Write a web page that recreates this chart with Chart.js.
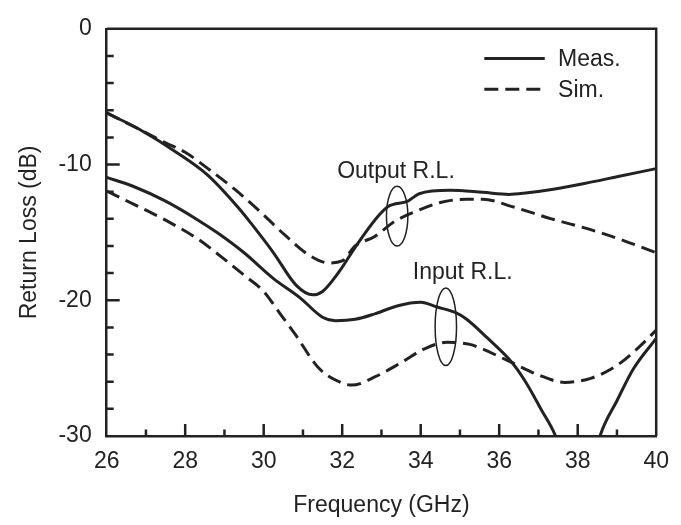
<!DOCTYPE html>
<html>
<head>
<meta charset="utf-8">
<style>
  html, body { margin: 0; padding: 0; background: #fff; }
  #wrap { width: 681px; height: 525px; }
</style>
<script src="https://cdn.jsdelivr.net/npm/chart.js@4/dist/chart.umd.min.js"></script>
</head>
<body>
<div id="wrap"><canvas id="chart" width="681" height="525"></canvas></div>
<script>
// frequency (GHz) / return loss (dB)
const outMeasX = [26, 26.83, 27.83, 28.58, 29.42, 29.67, 30.25, 30.83, 31.25, 31.5, 31.92, 32.33, 32.83, 33.17, 33.67, 33.96, 34.75, 35.58, 36.25, 36.67, 37.42, 38.17, 39.0, 40];
const outMeasY = [-6.2, -7.4, -9.2, -10.8, -13.4, -14.3, -16.5, -18.9, -19.6, -19.35, -17.9, -16.1, -14.1, -13.1, -12.7, -12.15, -11.9, -12.05, -12.2, -12.1, -11.8, -11.4, -10.9, -10.3];

const outSimX = [26, 26.83, 27.5, 28.0, 28.58, 29.25, 29.92, 30.58, 31.17, 31.67, 32.0, 32.33, 32.83, 33.33, 33.92, 34.5, 35.17, 35.58, 36.33, 37.33, 38.33, 39.17, 40];
const outSimY = [-6.2, -7.4, -8.4, -9.1, -10.3, -11.8, -13.5, -15.3, -16.7, -17.25, -17.1, -16.0, -15.3, -14.2, -13.4, -12.8, -12.55, -12.55, -13.1, -14.0, -14.8, -15.6, -16.5];

const inMeasX = [26, 26.67, 27.5, 28.33, 28.83, 29.5, 30.25, 30.92, 31.5, 31.83, 32.33, 32.83, 33.42, 34.0, 34.42, 34.88, 35.17, 35.67, 36.33, 36.67, 37.08, 37.42, 37.8, 38.3, 38.58, 39.0, 39.42, 40];
const inMeasY = [-10.95, -11.6, -12.7, -14.1, -15.05, -16.5, -18.4, -19.8, -21.25, -21.5, -21.4, -21.0, -20.4, -20.15, -20.5, -20.9, -21.4, -22.7, -24.6, -26.0, -28.1, -29.9, -33, -33, -29.9, -27.4, -25.05, -22.8];

const inSimX = [26, 26.67, 27.5, 28.33, 28.92, 29.5, 30.0, 30.42, 30.8, 31.42, 32.0, 32.25, 32.83, 33.5, 34.08, 34.67, 35.25, 35.5, 36.33, 37.0, 37.67, 38.33, 39.0, 39.58, 40];
const inSimY = [-11.95, -12.9, -14.1, -15.5, -16.8, -18.15, -19.35, -21.0, -22.5, -25.05, -26.1, -26.25, -25.65, -24.6, -23.6, -23.1, -23.25, -23.5, -24.6, -25.5, -26.05, -25.75, -24.8, -23.4, -22.2];

const xMin = 26, xMax = 40;
const yMin = -30, yMax = 0;

const INK = '#222';
const FONT = "'Liberation Sans', Arial, Helvetica, sans-serif";
const DASH = [14, 7];

const pts = (xs, ys) => xs.map((x, i) => ({ x: x, y: ys[i] }));

const line = (label, xs, ys, dashed) => ({
  label: label,
  data: pts(xs, ys),
  borderColor: INK,
  borderWidth: 3,
  borderDash: dashed ? DASH : [],
  pointRadius: 0,
  fill: false,
  tension: 0.4,
  cubicInterpolationMode: 'monotone'
});

// inward major/minor ticks, top/right frame, legend and the two callouts
const decorations = {
  id: 'decorations',
  afterDraw(chart) {
    const { ctx, chartArea: a, scales: { x, y } } = chart;
    ctx.save();
    ctx.strokeStyle = INK;
    ctx.lineCap = 'butt';

    // frame top and right
    ctx.lineWidth = 2.5;
    ctx.beginPath();
    ctx.moveTo(a.left, a.top);
    ctx.lineTo(a.right, a.top);
    ctx.lineTo(a.right, a.bottom);
    ctx.stroke();

    // ticks from the scales
    ctx.beginPath();
    x.ticks.forEach((t) => {
      if (t.value <= xMin || t.value >= xMax) return;
      const px = x.getPixelForValue(t.value);
      const len = t.value % 2 === 0 ? 12 : 6.5;
      ctx.moveTo(px, a.bottom);
      ctx.lineTo(px, a.bottom - len);
    });
    y.ticks.forEach((t) => {
      if (t.value <= yMin || t.value >= yMax) return;
      const py = y.getPixelForValue(t.value);
      const len = t.value % 10 === 0 ? 13 : 7;
      ctx.moveTo(a.left, py);
      ctx.lineTo(a.left + len, py);
    });
    ctx.stroke();

    // legend
    ctx.font = '23px ' + FONT;
    ctx.fillStyle = INK;
    ctx.textBaseline = 'middle';
    ctx.textAlign = 'left';
    const lx0 = x.getPixelForValue(35.62), lx1 = x.getPixelForValue(37.16);
    const tx = x.getPixelForValue(37.5);
    [['Meas.', -2.19, []], ['Sim.', -4.45, DASH]].forEach(([txt, v, dash]) => {
      const py = y.getPixelForValue(v);
      ctx.lineWidth = 3;
      ctx.setLineDash(dash);
      ctx.beginPath();
      ctx.moveTo(lx0, py);
      ctx.lineTo(lx1, py);
      ctx.stroke();
      ctx.setLineDash([]);
      ctx.fillText(txt, tx, py + 1);
    });

    // callouts
    ctx.textAlign = 'center';
    ctx.fillText('Output R.L.', x.getPixelForValue(33.37), y.getPixelForValue(-10.5));
    ctx.fillText('Input R.L.', x.getPixelForValue(35.07), y.getPixelForValue(-17.93));
    ctx.lineWidth = 1.5;
    [[33.4, -13.8, 2.2], [34.64, -21.95, 2.86]].forEach(([cx, cy, hy]) => {
      const px = x.getPixelForValue(cx), py = y.getPixelForValue(cy);
      const ry = Math.abs(y.getPixelForValue(cy + hy) - py);
      ctx.beginPath();
      ctx.ellipse(px, py, 10.7, ry, 0, 0, Math.PI * 2);
      ctx.stroke();
    });
    ctx.restore();
  }
};

new Chart(document.getElementById('chart'), {
  type: 'line',
  data: {
    datasets: [
      line('Output Meas.', outMeasX, outMeasY, false),
      line('Output Sim.', outSimX, outSimY, true),
      line('Input Meas.', inMeasX, inMeasY, false),
      line('Input Sim.', inSimX, inSimY, true)
    ]
  },
  options: {
    responsive: false,
    animation: false,
    layout: { padding: { top: 16, right: 14.3, left: 0, bottom: 0 } },
    plugins: { legend: { display: false }, tooltip: { enabled: false } },
    scales: {
      x: {
        type: 'linear',
        min: xMin,
        max: xMax,
        afterFit: (s) => { s.height = 89; },
        border: { display: true, color: INK, width: 2.5 },
        grid: { display: true, drawOnChartArea: false, drawTicks: false },
        ticks: {
          stepSize: 1,
          autoSkip: false,
          maxRotation: 0,
          padding: 12,
          color: INK,
          font: { family: FONT, size: 23 },
          callback: (v) => (v % 2 === 0 ? v : '')
        },
        title: {
          display: true,
          text: 'Frequency (GHz)',
          color: INK,
          font: { family: FONT, size: 23 },
          padding: 6
        }
      },
      y: {
        type: 'linear',
        min: yMin,
        max: yMax,
        afterFit: (s) => { s.width = 106.7; },
        border: { display: true, color: INK, width: 2.5 },
        grid: { display: true, drawOnChartArea: false, drawTicks: false },
        ticks: {
          stepSize: 2,
          autoSkip: false,
          padding: 15,
          color: INK,
          font: { family: FONT, size: 23 },
          callback: (v) => (v % 10 === 0 ? v : '')
        },
        title: {
          display: true,
          text: 'Return Loss (dB)',
          color: INK,
          font: { family: FONT, size: 23 },
          padding: 16
        }
      }
    }
  },
  plugins: [decorations]
});
</script>
</body>
</html>
